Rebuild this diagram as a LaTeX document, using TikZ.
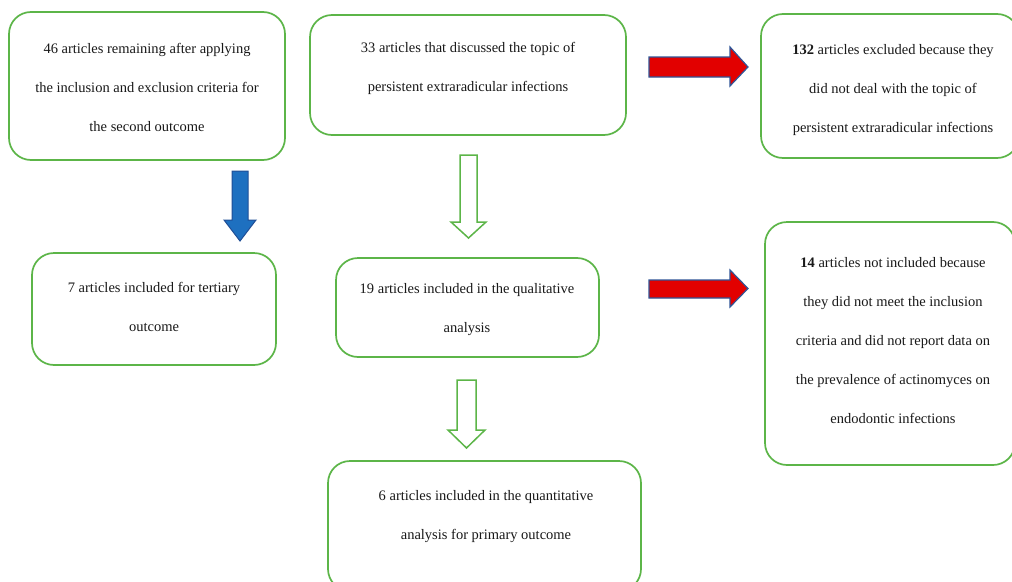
\documentclass[tikz,border=0pt]{standalone}
\usepackage{fontspec}
\setmainfont{Liberation Serif}
\definecolor{boxgreen}{RGB}{92,181,72}
\definecolor{arrblue}{RGB}{30,112,192}
\definecolor{arrblueedge}{RGB}{32,78,150}
\definecolor{arrred}{RGB}{226,0,0}
\definecolor{arrrededge}{RGB}{47,85,151}
\begin{document}
\begin{tikzpicture}[x=1pt,y=-1pt,
  box/.style={draw=boxgreen, line width=1.7pt, rounded corners=22pt, fill=white, inner sep=0pt},
  txt/.style={align=center, inner sep=0pt, font=\fontsize{14.5}{39}\selectfont, text=black!90},
  hollow/.style={draw=boxgreen, line width=1.5pt, fill=white, line join=miter},
  bluearr/.style={draw=arrblueedge, line width=1pt, fill=arrblue, line join=miter},
  redarr/.style={draw=arrrededge, line width=1.2pt, fill=arrred, line join=miter}]
\useasboundingbox (0,0) rectangle (1012,581);
\clip (0,0) rectangle (1012,581);
% boxes
\node[box, minimum width=276pt, minimum height=148pt] (A) at (147,86) {};
\node[box, minimum width=316pt, minimum height=120pt] (B) at (468,75) {};
\node[box, minimum width=258pt, minimum height=144pt] (C) at (890,86) {};
\node[box, minimum width=244pt, minimum height=112pt] (D) at (154,309) {};
\node[box, minimum width=263pt, minimum height=99pt] (E) at (467.5,307.5) {};
\node[box, minimum width=250pt, minimum height=243pt] (F) at (890,343.5) {};
\node[box, minimum width=313pt, minimum height=130pt] (G) at (484.5,526) {};
% texts
\node[txt] (tA) at (147,87) {46 articles remaining after applying\\the inclusion and exclusion criteria for\\the second outcome};
\node[txt] (tB) at (468,68) {33 articles that discussed the topic of\\persistent extraradicular infections};
\node[txt] (tC) at (893,90.5) {\textbf{132} articles excluded because they\\did not deal with the topic of\\persistent extraradicular infections};
\node[txt] (tD) at (154,307) {7 articles included for tertiary\\outcome};
\node[txt] (tE) at (467,310) {19 articles included in the qualitative\\analysis};
\node[txt] (tF) at (893,341) {\textbf{14} articles not included because\\they did not meet the inclusion\\criteria and did not report data on\\the prevalence of actinomyces on\\endodontic infections};
\node[txt] (tG) at (486,517) {6 articles included in the quantitative\\analysis for primary outcome};
% blue down arrow (A -> D)
\draw[bluearr] (232,171) -- (248,171) -- (248,220) -- (256,220) -- (240,241) -- (224,220) -- (232,220) -- cycle;
% hollow green arrows (B -> E, E -> G)
\draw[hollow] (460,155) -- (477,155) -- (477,222) -- (486,222) -- (468.5,238) -- (451,222) -- (460,222) -- cycle;
\draw[hollow] (457,380) -- (476,380) -- (476,430) -- (485,430) -- (466.5,448) -- (448,430) -- (457,430) -- cycle;
% red arrows (B -> C, E -> F)
\draw[redarr] (649,57) -- (730,57) -- (730,47) -- (748,67) -- (730,86) -- (730,77) -- (649,77) -- cycle;
\draw[redarr] (649,280) -- (730,280) -- (730,270) -- (748,288.5) -- (730,307) -- (730,298) -- (649,298) -- cycle;
\end{tikzpicture}
\end{document}
